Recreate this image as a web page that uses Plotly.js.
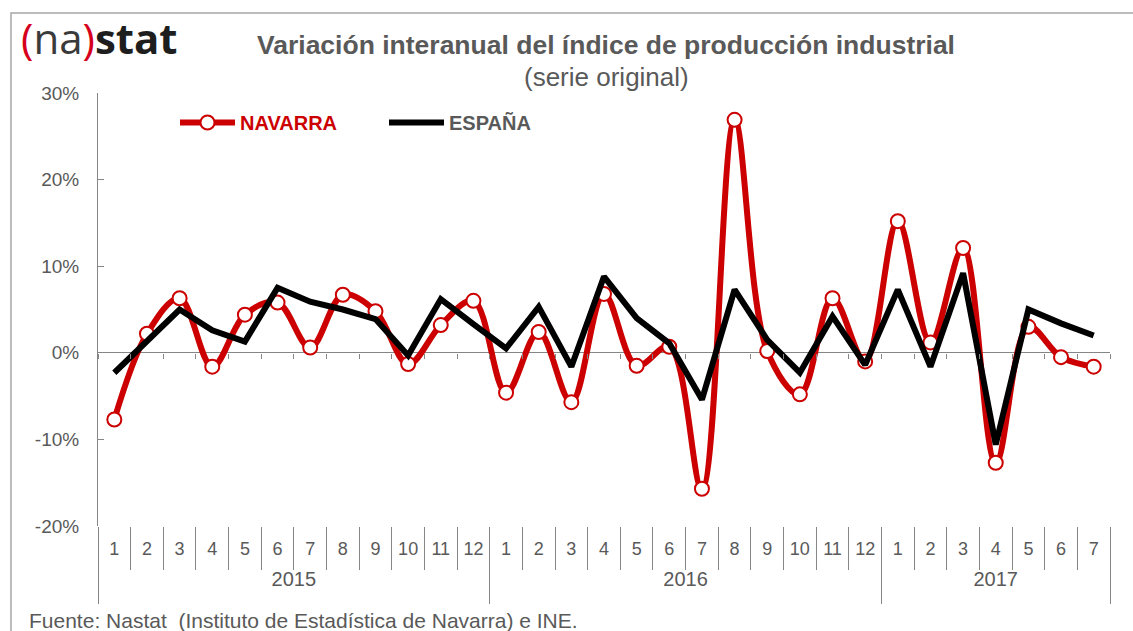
<!DOCTYPE html>
<html><head><meta charset="utf-8">
<script src="https://cdn.plot.ly/plotly-3.0.1.min.js"></script>
<style>html,body{margin:0;padding:0;background:#fff}#chart{width:1133px;height:631px}</style>
</head><body><div id="chart"></div>
<script>
const years = ['2015','2015','2015','2015','2015','2015','2015','2015','2015','2015','2015','2015',
               '2016','2016','2016','2016','2016','2016','2016','2016','2016','2016','2016','2016',
               '2017','2017','2017','2017','2017','2017','2017'];
const months = ['1','2','3','4','5','6','7','8','9','10','11','12',
                '1','2','3','4','5','6','7','8','9','10','11','12',
                '1','2','3','4','5','6','7'];
const navarra = [-7.7, 2.2, 6.3, -1.6, 4.4, 5.8, 0.6, 6.7, 4.8, -1.3, 3.2, 6.0,
                 -4.6, 2.4, -5.7, 6.8, -1.5, 0.7, -15.7, 26.9, 0.2, -4.8, 6.3, -1.0,
                 15.2, 1.2, 12.1, -12.7, 3.0, -0.5, -1.6];
const espana = [-2.3, 1.3, 5.0, 2.6, 1.3, 7.5, 5.9, 5.0, 3.9, -0.3, 6.2, 3.3,
                0.5, 5.3, -1.6, 8.8, 4.0, 1.1, -5.4, 7.3, 1.5, -2.3, 4.2, -1.4,
                7.3, -1.6, 9.2, -10.6, 5.0, 3.4, 2.0];
const yTicks = [-20, -10, 0, 10, 20, 30];
const yTickText = yTicks.map(v => v + '%');

const FONT = '"Liberation Sans", Arial, sans-serif';
const GREY = '#595959';
const AXIS = '#868686';
const RED = '#cc0000';

// plot-area helpers (pixel -> paper) for layout placement only
const L = 98, R = 1110, T = 93, B = 526;
const px = v => (v - L) / (R - L);
const py = v => (B - v) / (B - T);

// category positions derived from the data
const n = months.length;
const idx = months.map((m, i) => i);
const bounds = [];
for (let i = 0; i <= n; i++) bounds.push(i - 0.5);
const yearNames = [], yearCenters = [], yearBounds = [-0.5];
years.forEach(y => { if (yearNames[yearNames.length - 1] !== y) yearNames.push(y); });
yearNames.forEach(y => {
  const ii = idx.filter(i => years[i] === y);
  yearCenters.push((ii[0] + ii[ii.length - 1]) / 2);
  yearBounds.push(ii[ii.length - 1] + 0.5);
});

const traces = [
  {
    x: idx, y: navarra, name: '<span style="color:' + RED + '">NAVARRA</span>',
    type: 'scatter', mode: 'lines+markers',
    line: {color: RED, width: 6, shape: 'spline', smoothing: 1},
    marker: {symbol: 'circle', size: 14, color: '#ffffff', line: {color: RED, width: 2}},
    hoverinfo: 'skip'
  },
  {
    x: idx, y: espana, name: 'ESPAÑA', type: 'scatter', mode: 'lines',
    line: {color: '#000000', width: 6},
    hoverinfo: 'skip'
  }
];
// empty helper traces so that the auxiliary (tick-only) axes get drawn
['x2', 'x3', 'x4', 'x5'].forEach(ax => {
  traces.push({x: idx, y: idx.map(() => null), xaxis: ax, yaxis: 'y', type: 'scatter',
               mode: 'markers', showlegend: false, hoverinfo: 'skip', marker: {opacity: 0}});
});

const baseX = () => ({range: [-0.5, n - 0.5], autorange: false, showline: false, showgrid: false,
                      zeroline: false, fixedrange: true, type: 'linear'});

const layout = {
  width: 1133, height: 631,
  margin: {l: L, r: 1133 - R, t: T, b: 631 - B, pad: 0},
  paper_bgcolor: '#ffffff', plot_bgcolor: '#ffffff',
  font: {family: FONT, color: GREY, size: 17},
  showlegend: true,
  legend: {
    orientation: 'h', x: px(175), y: py(103), xanchor: 'left', yanchor: 'top',
    bgcolor: 'rgba(0,0,0,0)', itemwidth: 55, entrywidth: 139,
    font: {family: FONT, size: 20, weight: 'bold', color: GREY}
  },
  // month labels
  xaxis: Object.assign(baseX(), {
    tickmode: 'array', tickvals: idx, ticktext: months, ticks: '',
    ticklabelstandoff: 10,
    tickfont: {family: FONT, size: 18, color: GREY}
  }),
  // small ticks on the zero line
  xaxis2: Object.assign(baseX(), {
    overlaying: 'x', anchor: 'free', position: (0 - (-20)) / 50, side: 'bottom',
    tickmode: 'array', tickvals: bounds, ticks: 'outside', ticklen: 5, tickcolor: AXIS,
    showticklabels: false
  }),
  // month separators
  xaxis3: Object.assign(baseX(), {
    overlaying: 'x', anchor: 'free', position: 0, side: 'bottom',
    tickmode: 'array', tickvals: bounds, ticks: 'outside', ticklen: 43, tickcolor: AXIS,
    showticklabels: false
  }),
  // year separators
  xaxis4: Object.assign(baseX(), {
    overlaying: 'x', anchor: 'free', position: 0, side: 'bottom',
    tickmode: 'array', tickvals: yearBounds, ticks: 'outside', ticklen: 77, tickcolor: AXIS,
    showticklabels: false
  }),
  // year labels
  xaxis5: Object.assign(baseX(), {
    overlaying: 'x', anchor: 'free', position: 0, side: 'bottom',
    tickmode: 'array', tickvals: yearCenters, ticktext: yearNames, ticks: '',
    ticklabelstandoff: 39,
    tickfont: {family: FONT, size: 20, color: GREY}
  }),
  yaxis: {
    range: [-20, 30], tickmode: 'array', tickvals: yTicks, ticktext: yTickText, fixedrange: true,
    showline: true, linecolor: AXIS, linewidth: 1,
    ticks: 'inside', ticklen: 6, tickcolor: AXIS,
    showgrid: false, zeroline: true, zerolinecolor: AXIS, zerolinewidth: 1,
    ticklabelstandoff: 14,
    tickfont: {family: FONT, size: 19, color: GREY}
  },
  shapes: [
    {type: 'rect', xref: 'paper', yref: 'paper', x0: px(11), x1: 1.2, y0: -0.5, y1: py(13),
     line: {color: '#a6a6a6', width: 1.5}, fillcolor: 'rgba(0,0,0,0)', layer: 'below'}
  ],
  annotations: [
    {xref: 'paper', yref: 'paper', x: px(606), y: py(45), xanchor: 'center', yanchor: 'middle',
     text: '<b>Variación interanual del índice de producción industrial</b>', showarrow: false,
     font: {family: FONT, size: 26.5, color: GREY}},
    {xref: 'paper', yref: 'paper', x: px(606), y: py(77), xanchor: 'center', yanchor: 'middle',
     text: '(serie original)', showarrow: false,
     font: {family: FONT, size: 26, color: GREY}},
    {xref: 'paper', yref: 'paper', x: px(19), y: py(38), xanchor: 'left', yanchor: 'middle',
     text: '<span style="color:#d6001c">(</span><span style="color:#3a3a3a">na</span><span style="color:#d6001c">)</span><b>stat</b>',
     showarrow: false, font: {family: '"Open Sans", sans-serif', size: 42, color: '#1e1e1e'}},
    {xref: 'paper', yref: 'paper', x: px(27), y: py(620), xanchor: 'left', yanchor: 'middle',
     text: 'Fuente: Nastat  (Instituto de Estadística de Navarra) e INE.', showarrow: false,
     font: {family: FONT, size: 21, color: GREY}}
  ]
};

Plotly.newPlot('chart', traces, layout, {displayModeBar: false, staticPlot: true});
</script></body></html>
